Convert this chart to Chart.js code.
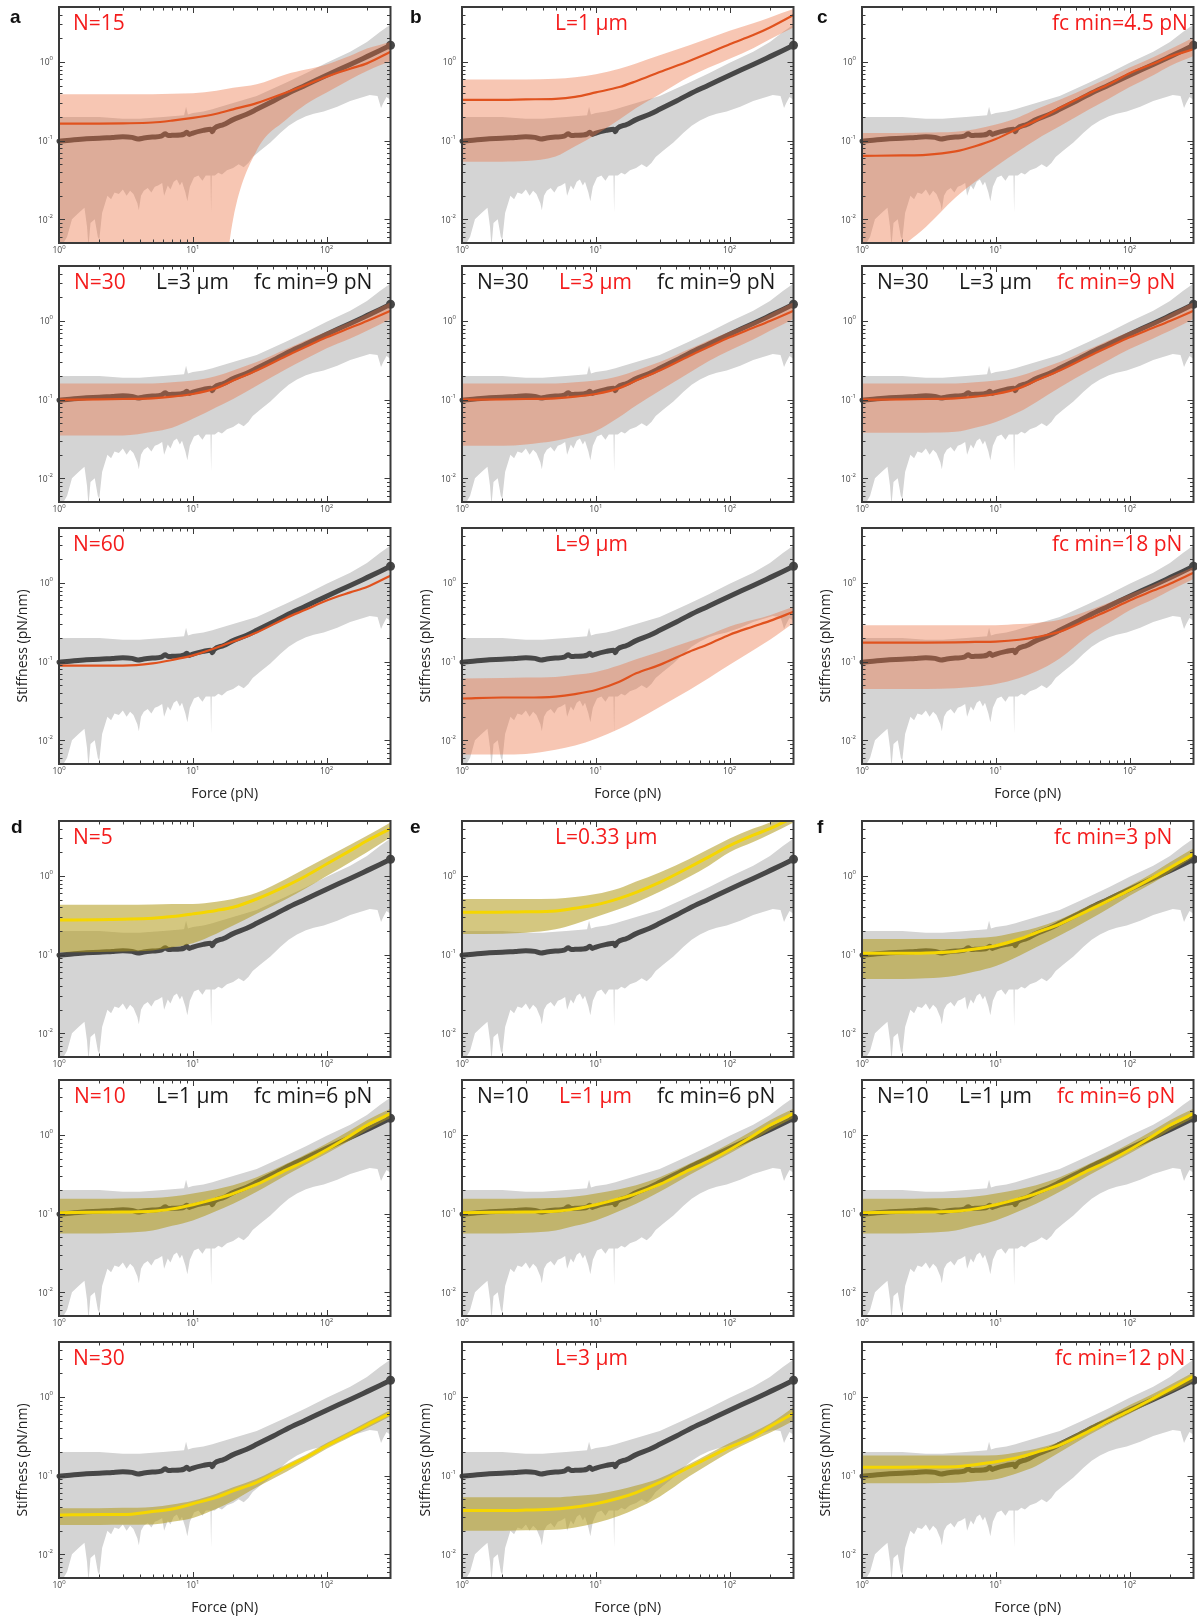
<!DOCTYPE html>
<html>
<head>
<meta charset="utf-8">
<script src="https://cdn.jsdelivr.net/npm/chart.js@4.4.1/dist/chart.umd.min.js"></script>
<style>
  body { margin: 0; background: #fff; }
  #fig { position: relative; width: 1197px; height: 1616px; overflow: hidden; }
  canvas { position: absolute; }
  .lbl { position: absolute; font-family: "Open Sans", sans-serif; font-size: 21px; line-height: 21px; white-space: nowrap; }
  .let { position: absolute; font-family: "Liberation Sans", Arial, sans-serif; font-weight: bold; font-size: 19px; line-height: 19px; color: #111; }
</style>
</head>
<body>
<div id="fig"></div>
<script>
// measured stiffness vs force (same in every panel)
const mean_f = [1, 1.3, 1.6, 2, 2.5, 3, 3.5, 3.9, 4.3, 5, 5.8, 6.2, 6.6, 7, 8, 8.6, 9, 9.4, 10, 12, 13.6, 14, 14.4, 17, 20, 25, 30, 40, 50, 70, 100, 150, 200, 250, 300];
const mean_k = [0.098, 0.103, 0.106, 0.107, 0.11, 0.112, 0.11, 0.105, 0.108, 0.111, 0.114, 0.122, 0.116, 0.117, 0.118, 0.121, 0.128, 0.12, 0.125, 0.135, 0.14, 0.13, 0.142, 0.16, 0.185, 0.215, 0.25, 0.32, 0.39, 0.51, 0.68, 0.93, 1.17, 1.4, 1.63];

// spread of the measurements (grey band)
const gray_hi_f = [1, 2, 3, 4, 5, 6, 7, 8.6, 8.9, 9.2, 10, 12, 14, 15, 20, 30, 50, 70, 100, 150, 200, 250, 300];
const gray_hi_k = [0.2, 0.2, 0.19, 0.19, 0.195, 0.2, 0.205, 0.21, 0.27, 0.215, 0.225, 0.235, 0.25, 0.26, 0.3, 0.37, 0.55, 0.72, 0.98, 1.35, 1.8, 2.4, 3.0];
const gray_lo_f = [1, 1.15, 1.25, 1.4, 1.55, 1.62, 1.66, 1.72, 1.85, 1.95, 2.0, 2.1, 2.3, 2.45, 2.6, 2.8, 3.0, 3.2, 3.4, 3.6, 3.85, 3.95, 4.1, 4.3, 4.6, 4.9, 5.2, 5.5, 5.9, 6.1, 6.5, 6.8, 7.2, 7.6, 8.0, 8.3, 8.8, 9.1, 9.5, 10.2, 11, 11.8, 12.5, 13.2, 13.55, 13.7, 13.85, 14.6, 15.5, 16.5, 18, 20, 22, 24, 26, 28, 32, 38, 45, 52, 60, 70, 80, 95, 120, 150, 180, 210, 240, 255, 265, 280, 300];
const gray_lo_k = [0.004, 0.006, 0.01, 0.012, 0.014, 0.008, 0.0045, 0.009, 0.01, 0.006, 0.0055, 0.012, 0.02, 0.018, 0.022, 0.021, 0.024, 0.02, 0.023, 0.021, 0.016, 0.013, 0.02, 0.023, 0.025, 0.022, 0.026, 0.027, 0.029, 0.02, 0.027, 0.024, 0.03, 0.032, 0.027, 0.03, 0.022, 0.017, 0.026, 0.034, 0.036, 0.031, 0.036, 0.036, 0.036, 0.012, 0.036, 0.036, 0.039, 0.037, 0.042, 0.045, 0.05, 0.046, 0.052, 0.062, 0.075, 0.095, 0.125, 0.155, 0.18, 0.205, 0.22, 0.235, 0.27, 0.32, 0.35, 0.38, 0.37, 0.26, 0.3, 0.36, 0.33];

// model curves, all on the same force grid
const fit_f = [1, 2, 3, 5, 7, 10, 15, 20, 30, 50, 70, 100, 150, 200, 300];

// orange: N / L / fc min varied around N=30, L=3, fc=9
const n15 = [0.165, 0.165, 0.166, 0.17, 0.18, 0.195, 0.22, 0.25, 0.30, 0.41, 0.51, 0.65, 0.82, 0.96, 1.35];
const n15_hi = [0.39, 0.39, 0.39, 0.39, 0.395, 0.40, 0.43, 0.47, 0.52, 0.70, 0.80, 0.93, 1.2, 1.48, 1.8];
const n15_lo = [0.0001, 0.0001, 0.0001, 0.0001, 0.0001, 0.0001, 0.0003, 0.010, 0.075, 0.186, 0.29, 0.41, 0.6, 0.77, 1.03];
const l1 = [0.33, 0.33, 0.335, 0.34, 0.36, 0.41, 0.48, 0.57, 0.745, 1.03, 1.3, 1.68, 2.2, 2.75, 3.95];
const l1_hi = [0.60, 0.60, 0.60, 0.61, 0.64, 0.70, 0.82, 0.96, 1.22, 1.63, 2.0, 2.49, 3.1, 3.69, 4.7];
const l1_lo = [0.054, 0.054, 0.055, 0.063, 0.085, 0.119, 0.186, 0.26, 0.39, 0.65, 0.85, 1.10, 1.5, 1.95, 2.75];
const fc45 = [0.064, 0.065, 0.066, 0.073, 0.085, 0.105, 0.145, 0.18, 0.26, 0.40, 0.52, 0.72, 0.95, 1.17, 1.45];
const fc45_hi = [0.125, 0.125, 0.127, 0.13, 0.14, 0.16, 0.2, 0.25, 0.33, 0.485, 0.63, 0.85, 1.15, 1.45, 2.05];
const fc45_lo = [0.0015, 0.0045, 0.008, 0.019, 0.03, 0.047, 0.075, 0.103, 0.152, 0.25, 0.34, 0.48, 0.68, 0.89, 1.19];
const ref30 = [0.10, 0.101, 0.102, 0.104, 0.109, 0.118, 0.14, 0.175, 0.235, 0.36, 0.47, 0.62, 0.82, 1.0, 1.35];
const ref30_hi = [0.16, 0.16, 0.16, 0.161, 0.166, 0.175, 0.2, 0.235, 0.30, 0.44, 0.57, 0.73, 0.98, 1.23, 1.73];
const ref30_lo_n = [0.035, 0.035, 0.035, 0.039, 0.044, 0.057, 0.08, 0.102, 0.15, 0.245, 0.33, 0.45, 0.6, 0.75, 1.06];
const ref30_lo_l = [0.026, 0.026, 0.027, 0.03, 0.034, 0.04, 0.06, 0.084, 0.13, 0.22, 0.31, 0.42, 0.58, 0.75, 1.06];
const ref30_lo_fc = [0.038, 0.038, 0.038, 0.039, 0.044, 0.052, 0.07, 0.093, 0.143, 0.234, 0.32, 0.44, 0.6, 0.75, 1.06];
const n60 = [0.089, 0.089, 0.089, 0.095, 0.105, 0.12, 0.15, 0.18, 0.235, 0.36, 0.46, 0.6, 0.76, 0.89, 1.24];
const l9 = [0.034, 0.035, 0.035, 0.036, 0.0387, 0.0436, 0.0556, 0.071, 0.091, 0.134, 0.168, 0.22, 0.28, 0.33, 0.43];
const l9_hi = [0.061, 0.062, 0.063, 0.064, 0.068, 0.074, 0.09, 0.107, 0.134, 0.18, 0.22, 0.28, 0.34, 0.39, 0.50];
const l9_lo = [0.0066, 0.0066, 0.0067, 0.0076, 0.0086, 0.0105, 0.014, 0.018, 0.0266, 0.0436, 0.062, 0.091, 0.14, 0.19, 0.31];
const fc18 = [0.175, 0.175, 0.175, 0.176, 0.178, 0.18, 0.19, 0.205, 0.24, 0.35, 0.45, 0.6, 0.8, 0.98, 1.35];
const fc18_hi = [0.29, 0.29, 0.29, 0.29, 0.29, 0.29, 0.3, 0.31, 0.34, 0.45, 0.56, 0.72, 0.95, 1.18, 1.6];
const fc18_lo = [0.045, 0.045, 0.045, 0.046, 0.048, 0.052, 0.062, 0.075, 0.11, 0.22, 0.31, 0.45, 0.62, 0.8, 1.12];

// yellow: varied around N=10, L=1, fc=6
const n5 = [0.276, 0.278, 0.282, 0.29, 0.305, 0.33, 0.365, 0.40, 0.51, 0.75, 1.0, 1.42, 2.1, 2.8, 4.0];
const n5_hi = [0.43, 0.43, 0.43, 0.435, 0.44, 0.44, 0.47, 0.51, 0.61, 0.92, 1.25, 1.73, 2.5, 3.25, 4.8];
const n5_lo = [0.107, 0.108, 0.11, 0.113, 0.124, 0.14, 0.185, 0.234, 0.33, 0.51, 0.7, 1.0, 1.5, 2.0, 3.1];
const l033 = [0.345, 0.347, 0.35, 0.36, 0.39, 0.43, 0.52, 0.62, 0.83, 1.29, 1.75, 2.43, 3.3, 4.0, 5.6];
const l033_hi = [0.51, 0.51, 0.51, 0.515, 0.54, 0.59, 0.7, 0.85, 1.11, 1.64, 2.2, 3.0, 4.0, 4.8, 6.5];
const l033_lo = [0.183, 0.185, 0.19, 0.21, 0.245, 0.30, 0.38, 0.46, 0.63, 0.98, 1.35, 2.0, 2.7, 3.4, 4.8];
const fc3 = [0.104, 0.104, 0.105, 0.11, 0.118, 0.13, 0.158, 0.19, 0.245, 0.37, 0.49, 0.66, 0.96, 1.27, 1.9];
const fc3_hi = [0.158, 0.158, 0.158, 0.158, 0.163, 0.17, 0.195, 0.22, 0.28, 0.42, 0.55, 0.75, 1.1, 1.49, 2.25];
const fc3_lo = [0.049, 0.049, 0.05, 0.054, 0.061, 0.072, 0.097, 0.124, 0.175, 0.28, 0.39, 0.56, 0.82, 1.11, 1.73];
const ref10 = [0.103, 0.104, 0.105, 0.107, 0.115, 0.13, 0.155, 0.18, 0.235, 0.36, 0.47, 0.65, 0.98, 1.33, 1.87];
const ref10_hi = [0.155, 0.155, 0.156, 0.158, 0.165, 0.18, 0.205, 0.23, 0.29, 0.43, 0.57, 0.78, 1.15, 1.54, 2.16];
const ref10_lo = [0.056, 0.056, 0.057, 0.061, 0.07, 0.082, 0.108, 0.134, 0.19, 0.31, 0.42, 0.58, 0.86, 1.15, 1.64];
const n30 = [0.0316, 0.032, 0.032, 0.035, 0.0376, 0.044, 0.053, 0.064, 0.082, 0.128, 0.17, 0.24, 0.34, 0.44, 0.62];
const n30_hi = [0.0385, 0.0385, 0.039, 0.04, 0.043, 0.048, 0.059, 0.071, 0.091, 0.14, 0.185, 0.26, 0.37, 0.48, 0.69];
const n30_lo = [0.0236, 0.0236, 0.0237, 0.024, 0.026, 0.029, 0.038, 0.048, 0.071, 0.112, 0.155, 0.22, 0.31, 0.40, 0.57];
const l3 = [0.036, 0.036, 0.0365, 0.0376, 0.04, 0.044, 0.052, 0.061, 0.082, 0.128, 0.17, 0.23, 0.31, 0.42, 0.62];
const l3_hi = [0.053, 0.053, 0.053, 0.053, 0.055, 0.058, 0.066, 0.075, 0.093, 0.141, 0.19, 0.26, 0.36, 0.46, 0.74];
const l3_lo = [0.02, 0.02, 0.0202, 0.0205, 0.022, 0.025, 0.031, 0.038, 0.054, 0.098, 0.14, 0.2, 0.28, 0.35, 0.5];
const fc12 = [0.128, 0.128, 0.129, 0.13, 0.138, 0.15, 0.172, 0.198, 0.245, 0.37, 0.5, 0.67, 0.96, 1.25, 1.83];
const fc12_hi = [0.18, 0.18, 0.18, 0.18, 0.181, 0.182, 0.2, 0.22, 0.27, 0.42, 0.57, 0.79, 1.1, 1.42, 2.06];
const fc12_lo = [0.08, 0.08, 0.08, 0.081, 0.085, 0.09, 0.11, 0.133, 0.198, 0.33, 0.45, 0.61, 0.88, 1.12, 1.6];

// ticks
const x_major = [1, 10, 100];
const x_minor = [2, 3, 4, 5, 6, 7, 8, 9, 20, 30, 40, 50, 60, 70, 80, 90, 200];
const x_exp = ["0", "1", "2"];
const y_major = [0.01, 0.1, 1];
const y_minor = [0.006, 0.007, 0.008, 0.009, 0.02, 0.03, 0.04, 0.05, 0.06, 0.07, 0.08, 0.09, 0.2, 0.3, 0.4, 0.5, 0.6, 0.7, 0.8, 0.9, 2, 3, 4];
const y_exp = ["-2", "-1", "0"];

// layout of the grid (full size px)
const col_left = [59, 462, 862];
const row_top = [7, 266, 528, 821, 1080, 1342];
const plot_w = 334, plot_h = 236;
const red = "#f41c1c", blk = "#1a1a1a";

const panels = [
  {r: 0, c: 0, k: "o", fit: n15, hi: n15_hi, lo: n15_lo, t: [["N=15", 14, 1]]},
  {r: 0, c: 1, k: "o", fit: l1, hi: l1_hi, lo: l1_lo, t: [["L=1 µm", 93, 1]]},
  {r: 0, c: 2, k: "o", fit: fc45, hi: fc45_hi, lo: fc45_lo, t: [["fc min=4.5 pN", 190, 1]]},
  {r: 1, c: 0, k: "o", fit: ref30, hi: ref30_hi, lo: ref30_lo_n, t: [["N=30", 15, 1], ["L=3 µm", 97, 0], ["fc min=9 pN", 195, 0]]},
  {r: 1, c: 1, k: "o", fit: ref30, hi: ref30_hi, lo: ref30_lo_l, t: [["N=30", 15, 0], ["L=3 µm", 97, 1], ["fc min=9 pN", 195, 0]]},
  {r: 1, c: 2, k: "o", fit: ref30, hi: ref30_hi, lo: ref30_lo_fc, t: [["N=30", 15, 0], ["L=3 µm", 97, 0], ["fc min=9 pN", 195, 1]]},
  {r: 2, c: 0, k: "o", fit: n60, hi: null, lo: null, t: [["N=60", 14, 1]]},
  {r: 2, c: 1, k: "o", fit: l9, hi: l9_hi, lo: l9_lo, t: [["L=9 µm", 93, 1]]},
  {r: 2, c: 2, k: "o", fit: fc18, hi: fc18_hi, lo: fc18_lo, t: [["fc min=18 pN", 190, 1]]},
  {r: 3, c: 0, k: "y", fit: n5, hi: n5_hi, lo: n5_lo, t: [["N=5", 14, 1]]},
  {r: 3, c: 1, k: "y", fit: l033, hi: l033_hi, lo: l033_lo, t: [["L=0.33 µm", 93, 1]]},
  {r: 3, c: 2, k: "y", fit: fc3, hi: fc3_hi, lo: fc3_lo, t: [["fc min=3 pN", 192, 1]]},
  {r: 4, c: 0, k: "y", fit: ref10, hi: ref10_hi, lo: ref10_lo, t: [["N=10", 15, 1], ["L=1 µm", 97, 0], ["fc min=6 pN", 195, 0]]},
  {r: 4, c: 1, k: "y", fit: ref10, hi: ref10_hi, lo: ref10_lo, t: [["N=10", 15, 0], ["L=1 µm", 97, 1], ["fc min=6 pN", 195, 0]]},
  {r: 4, c: 2, k: "y", fit: ref10, hi: ref10_hi, lo: ref10_lo, t: [["N=10", 15, 0], ["L=1 µm", 97, 0], ["fc min=6 pN", 195, 1]]},
  {r: 5, c: 0, k: "y", fit: n30, hi: n30_hi, lo: n30_lo, t: [["N=30", 14, 1]]},
  {r: 5, c: 1, k: "y", fit: l3, hi: l3_hi, lo: l3_lo, t: [["L=3 µm", 93, 1]]},
  {r: 5, c: 2, k: "y", fit: fc12, hi: fc12_hi, lo: fc12_lo, t: [["fc min=12 pN", 193, 1]]}
];

const letters = [["a", 10, 7], ["b", 410, 7], ["c", 817, 7], ["d", 11, 817], ["e", 410, 817], ["f", 817, 817]];

const styles = {
  o: {line: "#e0521e", lw: 2.2, band: "rgba(236,112,66,0.40)"},
  y: {line: "#f5d600", lw: 3, band: "rgba(176,153,24,0.55)"}
};

const fig = document.getElementById("fig");

function pts(xs, ys) {
  return xs.map((x, i) => ({x: x, y: ys[i]}));
}

// "10" with a small exponent
function pow_label(ctx, x, y, exp, y_exp_off) {
  ctx.font = "8.5px 'Open Sans'";
  const w1 = ctx.measureText("10").width;
  ctx.fillText("10", x, y);
  ctx.font = "6px 'Open Sans'";
  ctx.fillText(exp, x + w1, y - y_exp_off);
}

function label_width(ctx, exp) {
  ctx.font = "8.5px 'Open Sans'";
  const w1 = ctx.measureText("10").width;
  ctx.font = "6px 'Open Sans'";
  return w1 + ctx.measureText(exp).width;
}

// box with inward ticks on all sides plus the 10^n labels
const frame_plugin = {
  id: "frame",
  afterDraw(chart) {
    const ctx = chart.ctx, a = chart.chartArea;
    const xs = chart.scales.x, ys = chart.scales.y;
    ctx.save();
    ctx.strokeStyle = "#3a3a3a";
    ctx.lineWidth = 1;
    ctx.beginPath();
    for (const v of x_major.concat(x_minor)) {
      const len = x_major.includes(v) ? 6 : 3.5;
      const px = Math.round(xs.getPixelForValue(v)) + 0.5;
      ctx.moveTo(px, a.bottom); ctx.lineTo(px, a.bottom - len);
      ctx.moveTo(px, a.top); ctx.lineTo(px, a.top + len);
    }
    for (const v of y_major.concat(y_minor)) {
      const len = y_major.includes(v) ? 6 : 3.5;
      const py = Math.round(ys.getPixelForValue(v)) + 0.5;
      ctx.moveTo(a.left, py); ctx.lineTo(a.left + len, py);
      ctx.moveTo(a.right, py); ctx.lineTo(a.right - len, py);
    }
    ctx.stroke();
    ctx.lineWidth = 2;
    ctx.strokeRect(a.left, a.top, a.right - a.left, a.bottom - a.top);

    ctx.fillStyle = "#444";
    ctx.textAlign = "left";
    ctx.textBaseline = "alphabetic";
    x_major.forEach((v, i) => {
      const px = xs.getPixelForValue(v);
      const w = label_width(ctx, x_exp[i]);
      pow_label(ctx, px - w / 2, a.bottom + 9.5, x_exp[i], 4);
    });
    y_major.forEach((v, i) => {
      const py = ys.getPixelForValue(v);
      const w = label_width(ctx, y_exp[i]);
      pow_label(ctx, a.left - 6 - w, py + 3.5, y_exp[i], 5);
    });
    ctx.restore();
  }
};

function make_panel(p) {
  const left = col_left[p.c], top = row_top[p.r];
  const titled = p.r == 2 || p.r == 5;
  const xh = titled ? 38 : 22;
  const st = styles[p.k];

  const cv = document.createElement("canvas");
  cv.width = 44 + plot_w + 2;
  cv.height = 6 + plot_h + xh;
  cv.style.left = (left - 44) + "px";
  cv.style.top = (top - 6) + "px";
  fig.appendChild(cv);

  const ds = [
    {data: pts(gray_lo_f, gray_lo_k), borderWidth: 0, borderColor: "transparent", pointRadius: 0, fill: false, order: 60},
    {data: pts(gray_hi_f, gray_hi_k), borderWidth: 0, borderColor: "transparent", pointRadius: 0, fill: 0, backgroundColor: "#d4d4d4", order: 50},
    {data: pts(mean_f, mean_k), borderColor: "#474747", borderWidth: 5, borderJoinStyle: "round", borderCapStyle: "round",
     cubicInterpolationMode: "monotone",
     pointRadius: c => c.dataIndex == mean_f.length - 1 ? 4.5 : 0, pointBackgroundColor: "#474747", pointBorderWidth: 0,
     fill: false, order: 40, clip: 10}
  ];
  if (p.hi) {
    ds.push({data: pts(fit_f, p.lo), borderWidth: 0, borderColor: "transparent", pointRadius: 0, cubicInterpolationMode: "monotone", fill: false, order: 30});
    ds.push({data: pts(fit_f, p.hi), borderWidth: 0, borderColor: "transparent", pointRadius: 0, cubicInterpolationMode: "monotone", fill: 3, backgroundColor: st.band, order: 20});
  }
  ds.push({data: pts(fit_f, p.fit), borderColor: st.line, borderWidth: st.lw, pointRadius: 0, cubicInterpolationMode: "monotone", fill: false, order: 10});

  new Chart(cv, {
    type: "line",
    data: {datasets: ds},
    options: {
      responsive: false,
      animation: false,
      events: [],
      layout: {padding: {top: 6, right: 2, left: 0, bottom: 0}},
      plugins: {legend: {display: false}, tooltip: {enabled: false}},
      elements: {line: {tension: 0}},
      scales: {
        x: {
          type: "logarithmic", min: 1, max: 300,
          grid: {display: false}, border: {display: false}, ticks: {display: false},
          title: {display: titled, text: "Force (pN)", color: "#222", padding: 0, font: {family: "Open Sans", size: 14}},
          afterFit: s => { s.height = xh; }
        },
        y: {
          type: "logarithmic", min: 0.005, max: 5,
          grid: {display: false}, border: {display: false}, ticks: {display: false},
          title: {display: titled, text: "Stiffness (pN/nm)", color: "#222", padding: 0, font: {family: "Open Sans", size: 14}},
          afterFit: s => { s.width = 44; }
        }
      }
    },
    plugins: [frame_plugin]
  });

  for (const [txt, dx, is_red] of p.t) {
    const sp = document.createElement("div");
    sp.className = "lbl";
    sp.textContent = txt;
    sp.style.left = (left + dx) + "px";
    sp.style.top = (top + 5) + "px";
    sp.style.color = is_red ? red : blk;
    fig.appendChild(sp);
  }
}

panels.forEach(make_panel);

for (const [ch, x, y] of letters) {
  const d = document.createElement("div");
  d.className = "let";
  d.textContent = ch;
  d.style.left = x + "px";
  d.style.top = y + "px";
  fig.appendChild(d);
}
</script>
</body>
</html>
